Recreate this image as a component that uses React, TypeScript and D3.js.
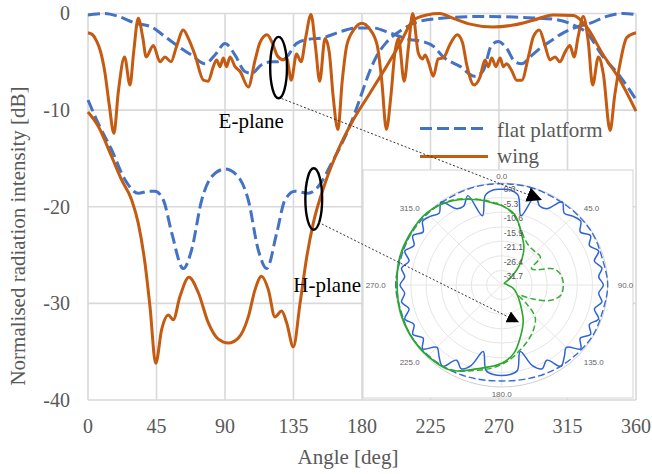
import React from 'react';
import * as d3 from 'd3';

type Pt = [number, number];

// Axis ticks
const angleTicks = [0, 45, 90, 135, 180, 225, 270, 315, 360];
const dbTicks = [0, -10, -20, -30, -40];

// Measured patterns: [angle in deg, normalised intensity in dB]
const flatEPlane: Pt[] = [
  [0, -0.15], [6, -0.05], [11, 0], [20, -0.3], [31, -1.0], [41.8, -1.4], [50.6, -2.4],
  [59.3, -3.4], [68, -4.3], [76.9, -5.2], [83.4, -4.3], [90, -3.1], [96.6, -4.3], [103, -6.0],
  [107.5, -6.2], [114, -5.3], [120.7, -5.0], [124, -5.0], [130.5, -4.5], [137, -3.1],
  [143.7, -2.7], [154.6, -2.5], [165.5, -1.9], [176.5, -1.5], [187.4, -1.5], [198, -2.0],
  [211.5, -2.7], [220, -2.9], [227, -3.4], [233.4, -4.5], [244.6, -5.5], [254, -6.5],
  [259.7, -5.9], [265, -3.3], [269.5, -2.9], [275, -3.6], [280.5, -5.0], [285, -5.2],
  [290.4, -4.5], [297, -3.6], [303.5, -2.9], [312.2, -2.0], [321, -1.4], [330, -1.0],
  [340.8, -0.3], [351.7, 0], [360, -0.1],
];

const flatHPlane: Pt[] = [
  [0, -8.95], [6.8, -11.4], [15.5, -14.1], [24.3, -17.2], [33, -18.6], [40, -18.4], [44, -18.4],
  [49.5, -19.3], [55, -22.7], [62.6, -26.4], [68, -24.5], [74.7, -19.3], [81.2, -16.9],
  [90, -16.1], [98.7, -16.9], [105.3, -19.3], [111.9, -24.5], [117.4, -26.4], [124, -22.7],
  [129.4, -19.3], [136, -18.4], [144.7, -18.6], [151.3, -17.9], [160, -15.5], [171, -12.0],
  [176, -10.0], [180, -8.2], [185, -6.0], [190, -4.3], [196, -3.0], [207, -1.6], [218, -0.8],
  [240, -0.4], [262, -0.3], [284, -0.4], [306, -0.6], [319, -1.2], [327.6, -2.0],
  [338.5, -4.5], [349.5, -6.5], [360, -8.9],
];

const wingEPlane: Pt[] = [
  [0, -2.0], [3, -2.2], [5.5, -2.8], [8, -3.8], [11, -6.0], [14, -9.5], [17, -12.4], [20, -8],
  [24, -4.5], [27.6, -7.4], [30, -4], [33, -0.5], [36, -2.5], [38.2, -4.5], [42.9, -3.3],
  [47.3, -5.0], [50.6, -4.5], [54.5, -5.0], [58, -3.5], [62.6, -1.7], [66, -2.6], [70.3, -4.3],
  [75.8, -6.9], [79, -7.0], [82.3, -5.5], [84.5, -4.8], [86.7, -5.5], [88.9, -4.6], [91, -5.5],
  [93.3, -4.5], [96.6, -5.5], [99.9, -6], [105.3, -7.6], [109.8, -4.8], [113, -3.0],
  [117.6, -2.2], [121, -3.0], [124.5, -4.4], [128.3, -4.8], [130.5, -4.6], [133.5, -6.9],
  [137, -4.2], [140, -5.0], [143, -2.5], [146.5, -0.1], [149.5, -3.5], [152.2, -7.0],
  [155.7, -2.6], [158.5, -4.0], [161, -8.5], [164.2, -12.0], [167, -7], [170, -3.3],
  [175, -1.6], [179.8, -1.0], [185, -1.6], [190, -3.3], [193, -7], [196, -12], [199, -8.5],
  [201.5, -4.2], [204, -2.6], [207.7, -7.0], [210.5, -3.5], [213.3, 0], [217, -4.1],
  [219.8, -4.7], [221.4, -4.3], [223.6, -5.0], [226.9, -6.5], [230, -4.7], [233.4, -4.6],
  [237.8, -3.2], [242.6, -2.2], [246, -3.0], [248.8, -5.3], [253.6, -7.4], [257.5, -6.6],
  [260.8, -4.8], [263, -5.5], [265.2, -4.6], [268, -5.5], [270.7, -4.6], [272.9, -5.5],
  [275, -5.2], [278.3, -5.9], [281.6, -6.9], [285, -6.9], [289.3, -4.5], [292.6, -2.4],
  [296.5, -1.7], [300.2, -3.3], [303.5, -4.8], [306.8, -4.5], [310, -5.0], [313.4, -4.0],
  [316.6, -3.3], [319.3, -4.5], [322, -2.4], [325.4, -0.3], [328.7, -3.0], [331.5, -7.4],
  [335.3, -4.5], [338.5, -6.2], [343, -12.1], [346, -8.5], [349.5, -5.2], [353.9, -2.5],
  [360, -2.0],
];

const wingHPlane: Pt[] = [
  [0, -10.2], [6.8, -11.7], [15.5, -14.8], [22, -17.2], [28.7, -19.3], [33, -21.7],
  [37.4, -25.8], [40.7, -30.3], [44.5, -36.2], [48.4, -32.7], [52.8, -31.2], [56, -31.7],
  [60.4, -29.3], [66.3, -27.3], [72.5, -28.9], [79, -32.0], [85.6, -33.7], [92.2, -34.1],
  [98.7, -33.6], [105.3, -31.4], [109.7, -28.6], [114, -27.2], [118.5, -28.6], [122.8, -31.4],
  [127.2, -30.8], [130.5, -32.0], [134.9, -34.5], [139.3, -30.0], [143.7, -25.2], [148, -21.7],
  [155.7, -17.6], [164.4, -14.1], [174.3, -11.0], [185, -8.3], [196, -5.5], [205, -3.1],
  [213.7, -0.7], [222.5, -0.15], [231, 0], [240, -0.5], [251, -1.1], [266, -1.4],
  [279.4, -1.2], [292.5, -0.7], [305.7, -0.15], [319, -0.2], [327.6, -1.4], [338.5, -4.3],
  [349.5, -6.9], [360, -10.1],
];

const legendNames = ['flat platform', 'wing'];

// Inset polar plot (simulated patterns), radial range -37 … 0 dB
const polarRings = [0, -5.3, -10.6, -15.9, -21.1, -26.4, -31.7];
const polarRingLabels = ['0.0', '-5.3', '-10.6', '-15.9', '-21.1', '-26.4', '-31.7'];
const polarAngles = [0, 45, 90, 135, 180, 225, 270, 315];

// blue solid, sampled every 5 deg starting at 0
const polarBlueSolid = [
  -2.3, -2.4, -4.0, -11.0, -2.5, -5.5, -5.0, -0.2, -3.0, -1.8, -1.0, -3.5,
  -1.2, -3.2, -1.0, -3.5, -1.5, -3.0, -1.5, -3.0, -1.5, -3.5, -1.0, -3.2,
  -1.2, -3.5, -1.0, -5.0, -3.0, -1.0, -5.5, -3.5, -6.0, -12.0, -5.5, -4.4,
  -4.2, -4.4, -5.5, -12.0, -6.0, -3.5, -5.5, -1.0, -3.0, -5.0, -1.0, -3.5,
  -1.2, -3.2, -1.0, -3.5, -1.5, -3.0, -1.5, -3.0, -1.5, -3.5, -1.0, -3.2,
  -1.2, -3.5, -1.0, -1.8, -3.0, -0.2, -5.0, -5.5, -2.5, -11.0, -4.0, -2.4,
];

const polarBlueDashed: Pt[] = [
  [0, -0.3], [15, -0.2], [30, -0.5], [45, -0.3], [60, -0.2], [75, -0.6], [90, 0], [105, -0.5],
  [120, -0.3], [135, -0.8], [150, -1.2], [165, -1.8], [180, -2.2], [195, -1.8], [210, -1.2],
  [225, -0.8], [240, -0.3], [255, -0.6], [270, 0], [285, -0.5], [300, -0.3], [315, -0.4],
  [330, -0.5], [345, -0.2],
];

const polarGreenSolid: Pt[] = [
  [0, -8.2], [10, -11], [20, -17], [30, -21.5], [40, -27], [50, -33], [60, -36], [75, -35.5],
  [90, -35], [105, -33], [120, -31], [135, -28], [150, -22], [160, -17.5], [170, -12],
  [180, -8.6], [195, -5.6], [210, -1.3], [225, -0.5], [240, -0.3], [255, -0.3], [270, -0.5],
  [285, 0], [300, 0], [315, 0], [330, -1.8], [345, -5.0], [355, -7.3],
];

const polarGreenDashed: Pt[] = [
  [0, -8.0], [10, -11.5], [20, -16.5], [27, -18.8], [35, -20], [45, -20.2], [53, -20.1],
  [60, -25], [65, -24], [72, -18], [80, -16], [90, -15.5], [100, -16], [108, -19], [115, -25],
  [122, -30], [128, -26], [135, -20.5], [145, -17.5], [155, -15], [165, -12.5], [175, -9.5],
  [185, -7], [195, -5], [210, -1.5], [225, -0.6], [240, -0.4], [255, -0.4], [270, -0.4],
  [285, -0.2], [300, -0.2], [315, -0.2], [330, -1.6], [345, -4.8], [355, -7],
];

// Callouts: ellipse centre on the main chart [deg, dB], line start [deg, dB], arrow tip on the inset [deg, dB]
const calloutE = { centre: [125.2, -5.6] as Pt, from: [127.2, -8.8] as Pt, to: [24.5, -3.1] as Pt };
const calloutH = { centre: [148.3, -19.2] as Pt, from: [151.3, -21.6] as Pt, to: [156, -22.2] as Pt };

const ORANGE = '#C55A11';
const BLUE = '#4472C4';
const GRID = '#d9d9d9';
const TEXT = '#595959';
const SERIF = "'Liberation Serif', 'Times New Roman', serif";
const SANS = "'Liberation Sans', Arial, sans-serif";

export default function App() {
  const plot = { left: 88, right: 636, top: 13.5, bottom: 400 };
  const x = d3.scaleLinear().domain([0, 360]).range([plot.left, plot.right]);
  const y = d3.scaleLinear().domain([-40, 0]).range([plot.bottom, plot.top]);
  const line = d3
    .line<Pt>()
    .x((d) => x(d[0]))
    .y((d) => y(d[1]))
    .curve(d3.curveMonotoneX);

  // inset geometry
  const box = { x0: 363, y0: 170, x1: 633, y1: 398 };
  const pc = { cx: 501.7, cy: 285, rx: 106, ry: 102 };
  const rNorm = d3.scaleLinear().domain([-37, 0]).range([0, 1]).clamp(true);
  const pxy = (deg: number, db: number): Pt => {
    const n = rNorm(db);
    const a = (deg * Math.PI) / 180;
    return [pc.cx + pc.rx * n * Math.sin(a), pc.cy - pc.ry * n * Math.cos(a)];
  };
  const polarLine = d3
    .line<Pt>()
    .x((d) => pxy(d[0], d[1])[0])
    .y((d) => pxy(d[0], d[1])[1])
    .curve(d3.curveCatmullRomClosed.alpha(0.5));
  const blueSolidPts: Pt[] = polarBlueSolid.map((v, i) => [i * 5, v]);

  const callouts = [
    { c: calloutE, marker: 'url(#triBig)' },
    { c: calloutH, marker: 'url(#triSmall)' },
  ];

  return (
    <svg
      width={652}
      height={474}
      style={{ position: 'absolute', left: 0, top: 0, background: '#fff' }}
      fontFamily={SERIF}
    >
      <defs>
        <marker id="triBig" viewBox="0 0 10 10" refX="10" refY="5" markerWidth="15" markerHeight="15"
          markerUnits="userSpaceOnUse" orient="auto">
          <path d="M0,0 L10,5 L0,10 z" fill="#000" />
        </marker>
        <marker id="triSmall" viewBox="0 0 10 10" refX="10" refY="5" markerWidth="12" markerHeight="12"
          markerUnits="userSpaceOnUse" orient="auto">
          <path d="M0,0 L10,5 L0,10 z" fill="#000" />
        </marker>
      </defs>

      {/* grid */}
      {dbTicks.map((t) => (
        <line key={'h' + t} x1={plot.left} x2={plot.right} y1={y(t)} y2={y(t)} stroke={GRID} strokeWidth={1.6} />
      ))}
      {angleTicks.map((t) => (
        <line key={'v' + t} x1={x(t)} x2={x(t)} y1={plot.top} y2={plot.bottom} stroke={GRID} strokeWidth={1.6} />
      ))}

      {/* tick labels */}
      {dbTicks.map((t) => (
        <text key={'yl' + t} x={70} y={y(t)} dy="0.34em" textAnchor="end" fontSize={20} fill={TEXT}>
          {t}
        </text>
      ))}
      {angleTicks.map((t) => (
        <text key={'xl' + t} x={x(t)} y={433} textAnchor="middle" fontSize={20} fill={TEXT}>
          {t}
        </text>
      ))}

      {/* axis titles */}
      <text x={348} y={464} textAnchor="middle" fontSize={21} fill={TEXT}>
        Angle [deg]
      </text>
      <text transform="translate(25,236) rotate(-90)" textAnchor="middle" fontSize={21} fill={TEXT}>
        Normalised radiation intensity [dB]
      </text>

      {/* series */}
      <path d={line(flatHPlane) ?? ''} fill="none" stroke={BLUE} strokeWidth={3} strokeDasharray="12,5" />
      <path d={line(flatEPlane) ?? ''} fill="none" stroke={BLUE} strokeWidth={3} strokeDasharray="12,5" />
      <path d={line(wingHPlane) ?? ''} fill="none" stroke={ORANGE} strokeWidth={3} />
      <path d={line(wingEPlane) ?? ''} fill="none" stroke={ORANGE} strokeWidth={3} />

      {/* legend */}
      <line x1={420} x2={488} y1={128.5} y2={128.5} stroke={BLUE} strokeWidth={3} strokeDasharray="12,5" />
      <text x={497} y={136.5} fontSize={21} fill={TEXT}>{legendNames[0]}</text>
      <line x1={420} x2={488} y1={156.5} y2={156.5} stroke={ORANGE} strokeWidth={3} />
      <text x={497} y={163} fontSize={21} fill={TEXT}>{legendNames[1]}</text>

      {/* plane labels */}
      <text x={x(85.8)} y={y(-11.8)} fontSize={21} fill="#000">E-plane</text>
      <text x={x(134.9)} y={y(-28.8)} fontSize={21} fill="#000">H-plane</text>

      {/* inset polar plot */}
      <g>
        <rect x={box.x0} y={box.y0} width={box.x1 - box.x0} height={box.y1 - box.y0} fill="#fff" stroke="#d4d4d4" strokeWidth={1} />
        {polarRings.map((v, i) => (
          <ellipse key={'ring' + i} cx={pc.cx} cy={pc.cy} rx={pc.rx * rNorm(v)} ry={pc.ry * rNorm(v)}
            fill="none" stroke={i === 0 ? '#d0d0d0' : '#e6e6e6'} strokeWidth={1} />
        ))}
        {polarAngles.map((a) => {
          const [ex, ey] = pxy(a, 0);
          return <line key={'sp' + a} x1={pc.cx} y1={pc.cy} x2={ex} y2={ey} stroke="#e6e6e6" strokeWidth={1} />;
        })}
        <path d={polarLine(polarBlueDashed) ?? ''} fill="none" stroke="#3a6ad6" strokeWidth={1.4} strokeDasharray="7,3" />
        <path d={polarLine(blueSolidPts) ?? ''} fill="none" stroke="#2f63d8" strokeWidth={1.5} />
        <path d={polarLine(polarGreenDashed) ?? ''} fill="none" stroke="#35ad35" strokeWidth={1.5} strokeDasharray="6,3" />
        <path d={polarLine(polarGreenSolid) ?? ''} fill="none" stroke="#2ba82b" strokeWidth={1.6} />
        {polarRingLabels.map((lab, i) => (
          <text key={'rl' + i} x={pc.cx + 2} y={pc.cy - pc.ry * rNorm(polarRings[i]) + 9} fontSize={8.5}
            fontFamily={SANS} fill="#555">
            {lab}
          </text>
        ))}
        {polarAngles.map((a) => {
          const s = Math.sin((a * Math.PI) / 180);
          const c = Math.cos((a * Math.PI) / 180);
          const anchor = Math.abs(s) < 0.1 ? 'middle' : s > 0 ? 'start' : 'end';
          const lx = Math.abs(s) < 0.1 ? pc.cx : pc.cx + s * 116;
          const ly = pc.cy - c * 109;
          return (
            <text key={'al' + a} x={lx} y={ly} dy="0.35em" textAnchor={anchor} fontSize={8}
              fontFamily={SANS} fill="#666">
              {a.toFixed(1)}
            </text>
          );
        })}
      </g>

      {/* callouts */}
      {callouts.map(({ c, marker }, i) => {
        const [fx, fy] = [x(c.from[0]), y(c.from[1])];
        const [tx, ty] = pxy(c.to[0], c.to[1]);
        return (
          <g key={'co' + i}>
            <ellipse cx={x(c.centre[0])} cy={y(c.centre[1])} rx={8.4} ry={30.7} fill="none" stroke="#000" strokeWidth={2.4} />
            <line x1={fx} y1={fy} x2={tx} y2={ty} stroke="#333" strokeWidth={1} strokeDasharray="2,2" markerEnd={marker} />
          </g>
        );
      })}
    </svg>
  );
}
